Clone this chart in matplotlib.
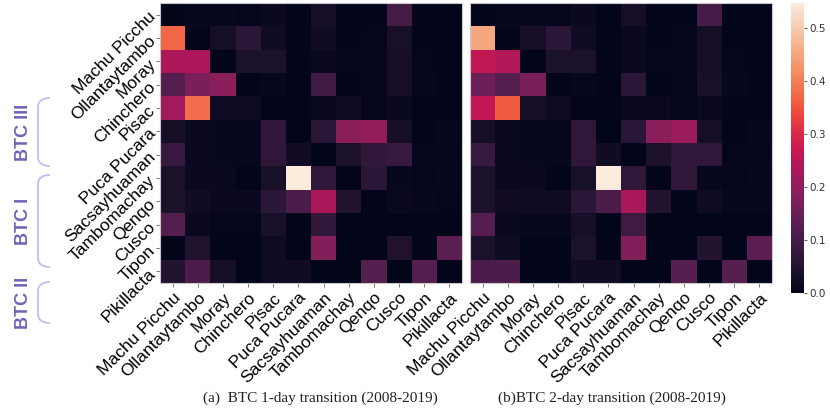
import numpy as np
import matplotlib
matplotlib.use("Agg")
import matplotlib.pyplot as plt
import seaborn as sns
from matplotlib.path import Path
from matplotlib.patches import PathPatch

sites = ["Machu Picchu", "Ollantaytambo", "Moray", "Chinchero", "Pisac",
         "Puca Pucara", "Sacsayhuaman", "Tambomachay", "Qenqo", "Cusco",
         "Tipon", "Pikillacta"]

# 1-day transition probabilities (row = from, col = to)
p1 = [
    [0.00, 0.01, 0.01, 0.005, 0.015, 0.00, 0.03, 0.00, 0.00, 0.10, 0.00, 0.00],
    [0.37, 0.00, 0.03, 0.06, 0.02, 0.00, 0.025, 0.00, 0.005, 0.035, 0.00, 0.00],
    [0.23, 0.235, 0.00, 0.04, 0.04, 0.00, 0.015, 0.005, 0.005, 0.03, 0.005, 0.00],
    [0.12, 0.17, 0.19, 0.00, 0.01, 0.00, 0.09, 0.00, 0.005, 0.03, 0.01, 0.00],
    [0.22, 0.38, 0.02, 0.02, 0.00, 0.00, 0.015, 0.02, 0.005, 0.015, 0.00, 0.00],
    [0.03, 0.015, 0.01, 0.01, 0.07, 0.00, 0.06, 0.19, 0.20, 0.03, 0.00, 0.01],
    [0.08, 0.015, 0.01, 0.01, 0.07, 0.025, 0.00, 0.04, 0.07, 0.08, 0.005, 0.005],
    [0.04, 0.015, 0.015, 0.00, 0.035, 0.55, 0.07, 0.00, 0.06, 0.01, 0.005, 0.01],
    [0.04, 0.025, 0.015, 0.015, 0.06, 0.11, 0.23, 0.05, 0.00, 0.015, 0.01, 0.005],
    [0.12, 0.015, 0.005, 0.005, 0.035, 0.00, 0.07, 0.00, 0.00, 0.00, 0.00, 0.00],
    [0.00, 0.045, 0.00, 0.00, 0.02, 0.00, 0.18, 0.00, 0.00, 0.045, 0.00, 0.13],
    [0.05, 0.11, 0.03, 0.00, 0.02, 0.02, 0.00, 0.00, 0.12, 0.00, 0.12, 0.00],
]

# 2-day transition probabilities
p2 = [
    [0.00, 0.01, 0.01, 0.005, 0.015, 0.00, 0.03, 0.00, 0.00, 0.10, 0.00, 0.00],
    [0.45, 0.00, 0.03, 0.06, 0.02, 0.00, 0.015, 0.00, 0.005, 0.03, 0.00, 0.00],
    [0.26, 0.24, 0.00, 0.04, 0.04, 0.00, 0.015, 0.005, 0.005, 0.03, 0.005, 0.00],
    [0.15, 0.12, 0.17, 0.00, 0.01, 0.00, 0.06, 0.00, 0.005, 0.035, 0.01, 0.00],
    [0.26, 0.36, 0.03, 0.02, 0.00, 0.00, 0.015, 0.015, 0.005, 0.015, 0.00, 0.00],
    [0.03, 0.015, 0.01, 0.01, 0.07, 0.00, 0.06, 0.19, 0.21, 0.03, 0.00, 0.01],
    [0.08, 0.015, 0.01, 0.01, 0.07, 0.025, 0.00, 0.04, 0.07, 0.07, 0.005, 0.005],
    [0.04, 0.015, 0.015, 0.00, 0.035, 0.55, 0.07, 0.00, 0.07, 0.01, 0.005, 0.01],
    [0.04, 0.025, 0.02, 0.02, 0.06, 0.11, 0.23, 0.05, 0.00, 0.02, 0.01, 0.01],
    [0.12, 0.015, 0.01, 0.01, 0.03, 0.00, 0.09, 0.00, 0.00, 0.00, 0.00, 0.00],
    [0.04, 0.02, 0.00, 0.00, 0.04, 0.00, 0.18, 0.00, 0.00, 0.05, 0.00, 0.13],
    [0.11, 0.11, 0.00, 0.00, 0.025, 0.025, 0.00, 0.00, 0.12, 0.00, 0.12, 0.00],
]

groups = ["BTC III", "BTC I", "BTC II"]
captions = ["(a)  BTC 1-day transition (2008-2019)", "(b)BTC 2-day transition (2008-2019)"]
cbar_ticks = [0.0, 0.1, 0.2, 0.3, 0.4, 0.5]

W, H = 830, 413
fig = plt.figure(figsize=(W / 100, H / 100), dpi=100)

def fx(px):
    return px / W

def fy(py):
    return 1 - py / H

ax1 = fig.add_axes([fx(160), fy(283), fx(302), 280 / H])
ax2 = fig.add_axes([fx(470), fy(283), fx(302), 280 / H])
cax = fig.add_axes([fx(791), fy(293), fx(13), 290 / H])

vmax = 0.547
for ax, data, show_y in [(ax1, p1, True), (ax2, p2, False)]:
    sns.heatmap(np.array(data), ax=ax, cmap="rocket", vmin=0, vmax=vmax,
                cbar=False, xticklabels=sites,
                yticklabels=sites if show_y else False)
    ax.set_xticklabels(sites, rotation=45, ha="right", rotation_mode="anchor",
                       fontsize=12.5, family="Liberation Sans")
    if show_y:
        ax.set_yticklabels(sites, rotation=45, ha="right", va="center",
                           rotation_mode="anchor", fontsize=12.5,
                           family="Liberation Sans")
    ax.tick_params(axis="both", length=3, width=0.6, color="#666666", pad=2)
    for s in ax.spines.values():
        s.set_visible(True)
        s.set_color("#c8c8c8")
        s.set_linewidth(0.8)

cb = fig.colorbar(ax1.collections[0], cax=cax, ticks=cbar_ticks)
cb.outline.set_visible(False)
cb.ax.tick_params(labelsize=7.5, length=2.5, width=0.6, color="#444444",
                  labelcolor="#333333", pad=1.5)
cb.ax.set_yticklabels([f"{t:.1f}" for t in cbar_ticks])

# group labels with brackets on the left
spans = [(98, 166), (175, 267), (282, 323)]
for name, (y0, y1) in zip(groups, spans):
    fig.text(fx(23), fy((y0 + y1) / 2), name, rotation=90, ha="center",
             va="center", fontsize=13, fontweight="bold", color="#6f66b8",
             family="Liberation Sans")
    xl, xr, r = 38, 50, 9
    verts = [(xr, y0), (xl, y0), (xl, y0 + r), (xl, y1 - r), (xl, y1), (xr, y1)]
    codes = [Path.MOVETO, Path.CURVE3, Path.CURVE3, Path.LINETO,
             Path.CURVE3, Path.CURVE3]
    verts = [(fx(a), fy(b)) for a, b in verts]
    fig.add_artist(PathPatch(Path(verts, codes), fill=False,
                             edgecolor="#bdbdf5", lw=1.3,
                             transform=fig.transFigure))

fig.text(fx(320), fy(398), captions[0], ha="center", va="center",
         fontsize=11, family="Liberation Serif", color="#222222")
fig.text(fx(612), fy(398), captions[1], ha="center", va="center",
         fontsize=11, family="Liberation Serif", color="#222222")

fig.savefig("out.png", dpi=100)
